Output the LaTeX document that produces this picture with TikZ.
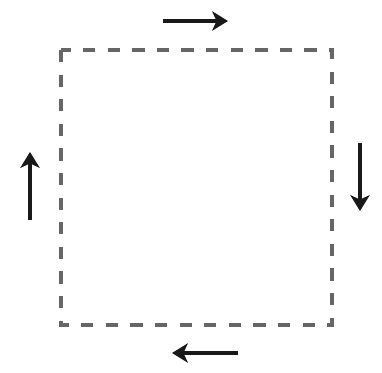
\documentclass[tikz,border=0pt]{standalone}
\usetikzlibrary{arrows.meta}

\begin{document}
\begin{tikzpicture}[
    x=0.02cm, y=-0.02cm,
    frame/.style={draw=black!60, line width=2.2pt, dash pattern=on 7pt off 7pt},
    flow/.style={-{Stealth[length=9pt, width=11pt, inset=2.5pt]}, line width=2.6pt, color=black!90}
]
\useasboundingbox (0,0) rectangle (382,372);
% Frame
\coordinate (tl) at (61,50);
\coordinate (br) at (332,325);
\draw[frame] (tl) rectangle (br);
% Arrows round the frame
\coordinate (top a) at (163,21);
\coordinate (top b) at (228,21);
\coordinate (right a) at (360,143);
\coordinate (right b) at (360,211);
\coordinate (bottom a) at (238,353);
\coordinate (bottom b) at (172,353);
\coordinate (left a) at (30,220);
\coordinate (left b) at (30,152);
\draw[flow] (top a) -- (top b);
\draw[flow] (right a) -- (right b);
\draw[flow] (bottom a) -- (bottom b);
\draw[flow] (left a) -- (left b);
\end{tikzpicture}
\end{document}
